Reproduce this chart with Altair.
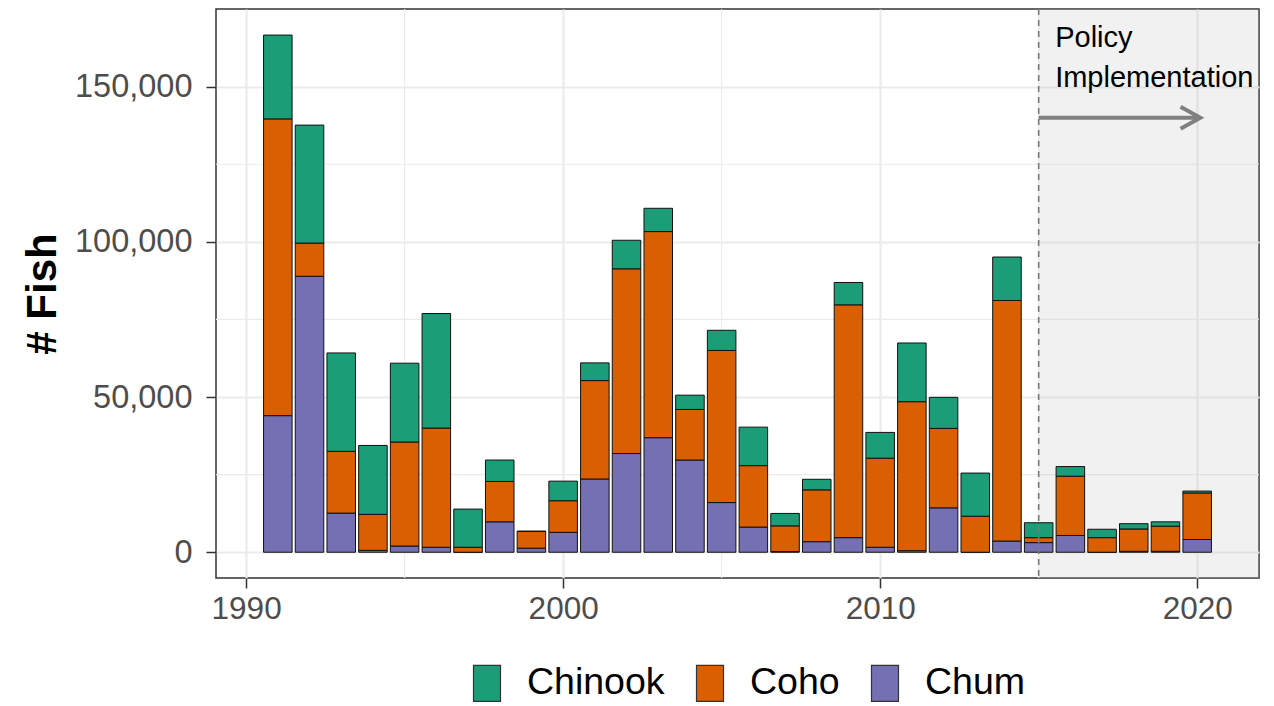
import altair as alt
import pandas as pd

# ---- data ----
years = list(range(1991, 2021))
chum = [44000, 88900, 12600, 600, 2000, 1600, 0, 9800, 1300, 6400,
        23600, 31800, 36900, 29700, 16000, 8100, 200, 3400, 4700, 1600,
        500, 14300, 0, 3600, 3100, 5400, 0, 300, 300, 4100]
coho = [95600, 10700, 19900, 11600, 33500, 38400, 1600, 13000, 5400, 10200,
        31700, 59500, 66400, 16300, 49000, 19800, 8300, 16700, 75000, 28700,
        48000, 25600, 11600, 77500, 1600, 19100, 4700, 7200, 8100, 15000]
chinook = [27000, 38000, 31700, 22200, 25400, 36900, 12300, 6900, 100, 6300,
           5700, 9200, 7500, 4600, 6500, 12400, 4000, 3400, 7200, 8300,
           18900, 10000, 13900, 14000, 4800, 3100, 2700, 1700, 1400, 600]

species = ["Chinook", "Coho", "Chum"]
species_colors = ["#1B9E77", "#D95F02", "#7570B3"]
stack_rank = {"Chum": 0, "Coho": 1, "Chinook": 2}

x_ticks = [1990, 2000, 2010, 2020]
x_minor = [1995, 2005, 2015]
y_ticks = [0, 50000, 100000, 150000]
y_minor = [25000, 75000, 125000]

policy_year = 2015

rows = []
for name, vals in (("Chum", chum), ("Coho", coho), ("Chinook", chinook)):
    for yr, v in zip(years, vals):
        rows.append({"Year": yr, "Species": name, "Count": v, "ord": stack_rank[name]})
df = pd.DataFrame(rows)

FONT = "Liberation Sans"
W, H = 1043, 569

xscale = alt.Scale(domain=[1989.05, 2021.95], nice=False, zero=False)
yscale = alt.Scale(domain=[-8300, 175000], nice=False, zero=False)
xaxis = alt.Axis(values=x_ticks, format="d", title="", grid=True,
                 labelPadding=5, labelFontSize=31.5)
yaxis = alt.Axis(values=y_ticks, format=",d", title="# Fish", grid=True,
                 labelPadding=14, labelFontSize=32.5, titleFontSize=42,
                 titleFontWeight="bold", titleColor="black", titleFont=FONT,
                 titlePadding=10)

minor_x = alt.Chart(pd.DataFrame({"v": x_minor})).mark_rule(
    color="#EBEBEB", strokeWidth=1.1).encode(
    x=alt.X("v:Q", scale=xscale, axis=xaxis))
minor_y = alt.Chart(pd.DataFrame({"w": y_minor})).mark_rule(
    color="#EBEBEB", strokeWidth=1.1).encode(
    y=alt.Y("w:Q", scale=yscale, axis=yaxis))

shade = alt.Chart(pd.DataFrame({"a": [0]})).mark_rect(
    color="#BEBEBE", opacity=0.22, clip=True).encode(
    x=alt.datum(policy_year), x2=alt.datum(2023),
    y=alt.value(0), y2=alt.value(H))

bars = alt.Chart(df).transform_stack(
    stack="Count", groupby=["Year"], as_=["y0", "y1"],
    sort=[alt.SortField("ord", order="ascending")], offset="zero"
).transform_calculate(
    x0="datum.Year - 0.45", x1="datum.Year + 0.45"
).mark_rect(stroke="#111111", strokeWidth=1.0, opacity=1).encode(
    x=alt.X("x0:Q", scale=xscale, axis=xaxis),
    x2="x1:Q",
    y=alt.Y("y0:Q", scale=yscale, axis=yaxis),
    y2="y1:Q",
    color=alt.Color("Species:N",
                    scale=alt.Scale(domain=species, range=species_colors),
                    legend=alt.Legend(title=None, orient="none", direction="horizontal",
                                      legendX=252, legendY=655,
                                      symbolType="M-0.75,-1L0.75,-1L0.75,1L-0.75,1Z",
                                      symbolSize=1296, symbolStrokeColor="#333333",
                                      symbolStrokeWidth=1.2, symbolOpacity=1,
                                      labelFontSize=37.5, labelFont=FONT,
                                      labelColor="black", labelOffset=21,
                                      columnPadding=26, padding=0)),
)

dash = alt.Chart(pd.DataFrame({"a": [0]})).mark_rule(
    color="#7A7A7A", strokeWidth=1.6, strokeDash=[6, 5]).encode(
    x=alt.datum(policy_year))

arrow_line = alt.Chart(pd.DataFrame({"a": [0]})).mark_rule(
    color="#808080", strokeWidth=4).encode(
    x=alt.datum(policy_year), x2=alt.datum(2020.0), y=alt.datum(140000))

arrow_head = alt.Chart(pd.DataFrame({"a": [0]})).mark_point(
    shape="M-1.8,-1L0,0L-1.8,1", filled=False, strokeWidth=4, size=484,
    color="#808080", opacity=1, strokeJoin="miter").encode(
    x=alt.datum(2020.1), y=alt.datum(140000))

txt1 = alt.Chart(pd.DataFrame({"a": [0]})).mark_text(
    align="left", baseline="alphabetic", fontSize=29, font=FONT, color="black",
    text="Policy").encode(x=alt.datum(2015.52), y=alt.datum(162600))
txt2 = alt.Chart(pd.DataFrame({"a": [0]})).mark_text(
    align="left", baseline="alphabetic", fontSize=29, font=FONT, color="black",
    text="Implementation").encode(x=alt.datum(2015.52), y=alt.datum(150000))

chart = alt.layer(minor_x, minor_y, shade, bars, dash, arrow_line, arrow_head, txt1, txt2).properties(
    width=W, height=H,
    background="white",
    autosize=alt.AutoSizeParams(type="none"),
    padding={"left": 208, "top": 1, "right": 7, "bottom": 124},
).configure_view(
    stroke="#333333", strokeWidth=1.5
).configure_axis(
    domain=False, gridColor="#EBEBEB", gridWidth=2.2,
    tickColor="#333333", tickWidth=1.5, tickSize=10,
    labelColor="#4D4D4D", labelFont=FONT,
)

chart.save("out.html", embed_options={"renderer": "svg", "actions": False})
